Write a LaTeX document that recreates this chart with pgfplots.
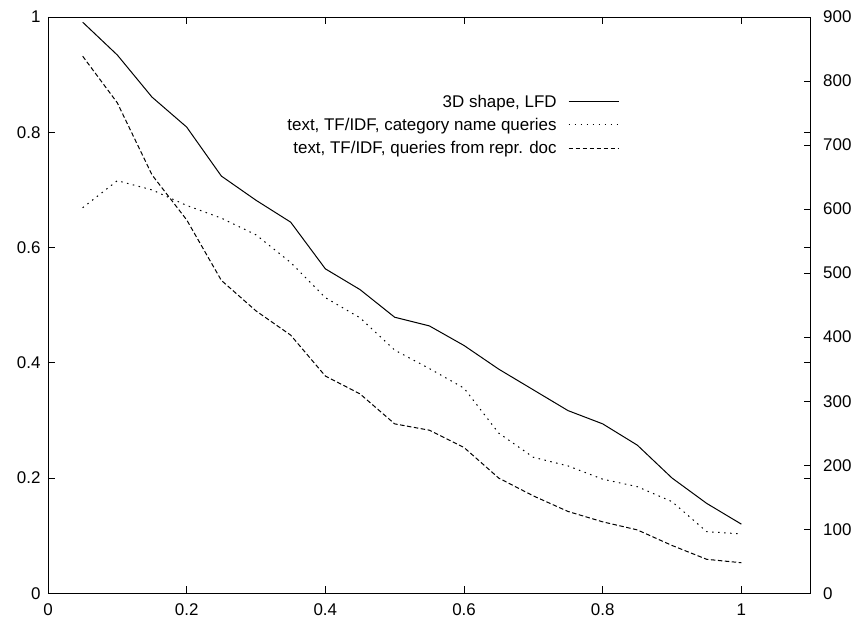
\documentclass[border=0pt]{standalone}
\usepackage{pgfplots}
\pgfplotsset{compat=1.18}
\usepackage{fontspec}
\setmainfont{Liberation Sans}
\begin{document}
\begin{tikzpicture}
\pgfplotsset{
  common/.style={width=762.7bp,height=576.3bp,scale only axis,
    xmin=0,xmax=1.1,
    tick align=inside, major tick length=7bp,
    every tick/.style={line width=0.8bp, black},
    axis line style={line width=0.8bp},
    ticklabel style={font=\fontsize{17}{20}\selectfont},
    /pgf/number format/assume math mode=true,
  }
}
\begin{axis}[common, ymin=0, ymax=1,
  xtick={0,0.2,0.4,0.6,0.8,1}, ytick={0,0.2,0.4,0.6,0.8,1},
  xtick pos=both, xticklabel pos=lower,
  ytick pos=both, yticklabel pos=left,
  yticklabel style={xshift=-4bp},
  xticklabel style={yshift=-7bp},
  legend plot pos=right,
  legend cell align=right,
  legend image code/.code={\draw[#1] (0bp,0bp) -- (50bp,0bp);},
  legend style={draw=none, fill=none, at={(axis cs:0.824,0.868)}, anchor=north east,
    font=\fontsize{17}{20}\selectfont, row sep=6.5bp, column sep=10bp, inner sep=0pt,
    nodes={inner sep=1.5bp}},
]
\addplot[black, line width=1bp] coordinates {
(0.05,0.991) (0.10,0.934) (0.15,0.861) (0.20,0.809) (0.25,0.724)
(0.30,0.682) (0.35,0.644) (0.40,0.563) (0.45,0.527) (0.50,0.479)
(0.55,0.464) (0.60,0.430) (0.65,0.389) (0.70,0.353) (0.75,0.317)
(0.80,0.294) (0.85,0.257) (0.90,0.200) (0.95,0.156) (1.00,0.120)};
\addlegendentry{3D shape, LFD}
\addplot[black, line width=1bp, dash pattern=on 1.5bp off 4.5bp] coordinates {
(0.05,0.669) (0.10,0.716) (0.15,0.700) (0.20,0.673) (0.25,0.651)
(0.30,0.622) (0.35,0.574) (0.40,0.513) (0.45,0.478) (0.50,0.422)
(0.55,0.390) (0.60,0.356) (0.65,0.278) (0.70,0.236) (0.75,0.221)
(0.80,0.198) (0.85,0.185) (0.90,0.159) (0.95,0.107) (1.00,0.103)};
\addlegendentry{text, TF/IDF, category name queries}
\addplot[black, line width=1bp, dash pattern=on 4.5bp off 2.5bp] coordinates {
(0.05,0.932) (0.10,0.851) (0.15,0.726) (0.20,0.648) (0.25,0.543)
(0.30,0.490) (0.35,0.448) (0.40,0.377) (0.45,0.346) (0.50,0.294)
(0.55,0.283) (0.60,0.253) (0.65,0.200) (0.70,0.169) (0.75,0.142)
(0.80,0.124) (0.85,0.110) (0.90,0.083) (0.95,0.059) (1.00,0.053)};
\addlegendentry{text, TF/IDF, queries from repr. doc}
\end{axis}
\begin{axis}[common, ymin=0, ymax=900,
  ytick={0,100,200,300,400,500,600,700,800,900},
  axis x line=none, axis y line*=right,
  yticklabel style={xshift=9bp},
]
\end{axis}
\pgfresetboundingbox
\useasboundingbox (-48bp,-25.7bp) rectangle (809bp,593.3bp);
\end{tikzpicture}
\end{document}
